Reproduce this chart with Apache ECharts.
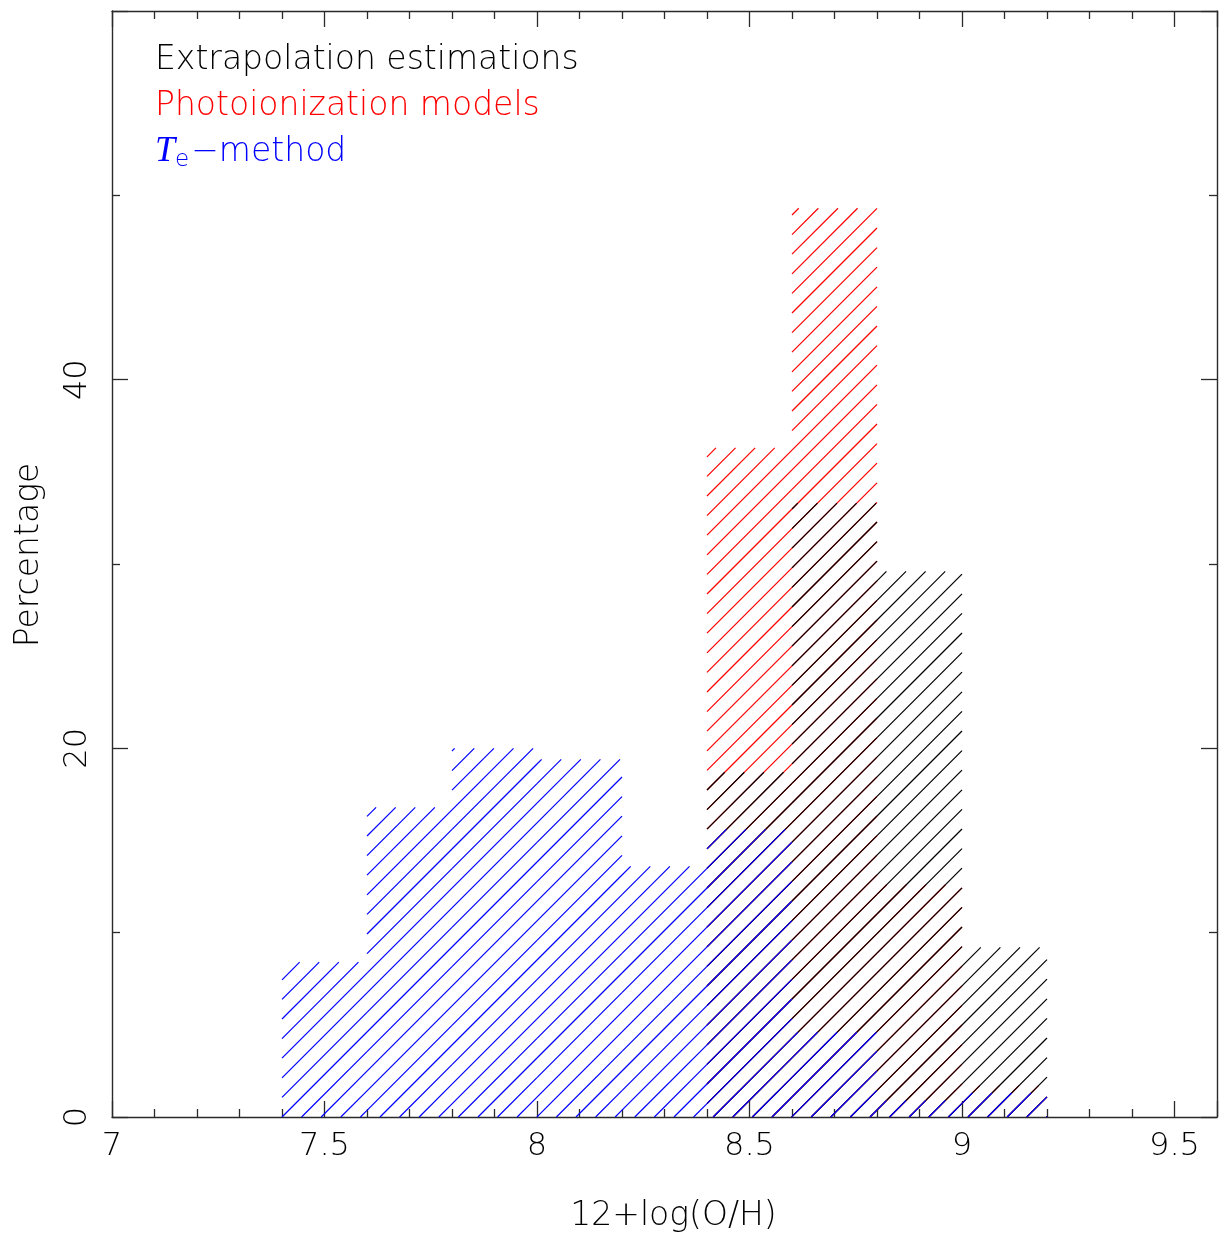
<!DOCTYPE html>
<html>
<head>
<meta charset="utf-8">
<script src="https://cdn.jsdelivr.net/npm/echarts@6/dist/echarts.min.js"></script>
<style>
  html, body { margin: 0; padding: 0; background: #ffffff; }
  #chart { width: 1220px; height: 1236px; }
</style>
</head>
<body>
<div id="chart"></div>
<script>
// Histogram bin edges in 12+log(O/H), 0.2 dex wide
const binEdges = [7.4, 7.6, 7.8, 8.0, 8.2, 8.4, 8.6, 8.8, 9.0, 9.2];

// Percentage of objects per bin for each abundance method
const extrapolation   = [0, 0, 0, 0, 0, 18.7, 33.3, 29.6, 9.2];
const photoionization = [0, 0, 0, 0, 0, 36.3, 49.3, 12.6, 1.7];
const teMethod        = [8.4, 16.8, 20.0, 19.4, 13.6, 15.6, 4.6, 0.9, 1.3];

const seriesNames = ['Extrapolation estimations', 'Photoionization models', 'Te-method'];

// Axis tick labels
const xTickLabels = ['7', '7.5', '8', '8.5', '9', '9.5'];
const yTickLabels = ['0', '20', '40'];

const FONT = "'DejaVu Sans'";
const FONT_WEIGHT = 200;
const TICK_SIZE = 32;
const TEXT_SIZE = 33;
const AXIS_COLOR = '#2a2a2a';
const HATCH_GAP = 19.6;      // horizontal distance between hatch lines (px)
const HATCH_WIDTH = 1.2;

function toBins(values) {
  const out = [];
  values.forEach((v, i) => {
    if (v > 0) out.push([binEdges[i], binEdges[i + 1], v]);
  });
  return out;
}

// Diagonal ("/") hatching of one histogram bar; all bars share the same line grid
function hatchRenderer(color) {
  return function (params, api) {
    const x0 = api.value(0), x1 = api.value(1), v = api.value(2);
    const bl = api.coord([x0, 0]);
    const tr = api.coord([x1, v]);
    const anchor = api.coord([binEdges[0], 0]);
    const left = bl[0], right = tr[0], bottom = bl[1], top = tr[1];
    const c0 = anchor[0] + anchor[1];
    const kStart = Math.ceil((left + top - c0) / HATCH_GAP);
    const kEnd = Math.floor((right + bottom - c0) / HATCH_GAP);
    const children = [];
    for (let k = kStart; k <= kEnd; k++) {
      const c = c0 + k * HATCH_GAP;
      const xa = Math.max(left, c - bottom);
      const xb = Math.min(right, c - top);
      if (xb <= xa) continue;
      children.push({
        type: 'line',
        shape: { x1: xa, y1: c - xa, x2: xb, y2: c - xb },
        style: { stroke: color, lineWidth: HATCH_WIDTH }
      });
    }
    return { type: 'group', children: children };
  };
}

const axisLine = { show: true, onZero: false, lineStyle: { color: AXIS_COLOR, width: 1.4 } };
const tickStyle = { color: AXIS_COLOR, width: 1.3 };
const tickText = { fontFamily: FONT, fontWeight: FONT_WEIGHT, fontSize: TICK_SIZE, color: '#000' };
const nameText = { fontFamily: FONT, fontWeight: FONT_WEIGHT, fontSize: TEXT_SIZE, color: '#000' };

const chart = echarts.init(document.getElementById('chart'), null, { renderer: 'canvas' });

chart.setOption({
  animation: false,
  backgroundColor: '#ffffff',
  textStyle: { fontFamily: FONT },
  grid: { left: 112, right: 3, top: 11, bottom: 119, containLabel: false, outerBoundsMode: 'none' },
  legend: {
    left: 145,
    top: 35,
    orient: 'vertical',
    icon: 'none',
    itemWidth: 0,
    itemHeight: 0,
    itemGap: 6,
    selectedMode: false,
    data: [
      { name: seriesNames[0], textStyle: { color: '#000000' } },
      { name: seriesNames[1], textStyle: { color: '#ff0000' } },
      { name: seriesNames[2], textStyle: { color: '#0000ff' } }
    ],
    formatter: function (name) {
      return name === seriesNames[2] ? '{t|T}{s|e}{n|\u2212method}' : name;
    },
    textStyle: {
      fontFamily: FONT,
      fontWeight: FONT_WEIGHT,
      fontSize: TEXT_SIZE,
      lineHeight: 40,
      rich: {
        t: { fontFamily: 'Liberation Serif', fontStyle: 'italic', fontSize: 36, color: '#0000ff', lineHeight: 40 },
        s: { fontFamily: FONT, fontWeight: FONT_WEIGHT, fontSize: 23, color: '#0000ff', lineHeight: 40, padding: [16, 2, 0, 0] },
        n: { fontFamily: FONT, fontWeight: FONT_WEIGHT, fontSize: TEXT_SIZE, color: '#0000ff', lineHeight: 40 }
      }
    }
  },
  xAxis: [
    {
      type: 'value',
      position: 'bottom',
      min: 7, max: 9.6, interval: 0.5,
      name: '12+log(O/H)',
      nameLocation: 'middle',
      nameGap: 83,
      nameTextStyle: Object.assign({ padding: [0, 0, 0, 18] }, nameText),
      axisLine: axisLine,
      axisTick: { show: true, inside: true, length: 16, lineStyle: tickStyle },
      minorTick: { show: true, splitNumber: 5, length: 8, lineStyle: tickStyle },
      splitLine: { show: false },
      axisLabel: Object.assign({
        margin: 14,
        showMaxLabel: false,
        formatter: function (v) { const s = String(v); return xTickLabels.indexOf(s) >= 0 ? s : ''; }
      }, tickText)
    },
    {
      type: 'value',
      position: 'top',
      min: 7, max: 9.6, interval: 0.5,
      axisLine: axisLine,
      axisTick: { show: true, inside: true, length: 16, lineStyle: tickStyle },
      minorTick: { show: true, splitNumber: 5, length: 8, lineStyle: tickStyle },
      splitLine: { show: false },
      axisLabel: { show: false }
    }
  ],
  yAxis: [
    {
      type: 'value',
      position: 'left',
      min: 0, max: 60, interval: 20,
      name: 'Percentage',
      nameLocation: 'middle',
      nameGap: 66,
      nameTextStyle: Object.assign({ padding: [0, 0, 0, 18] }, nameText),
      axisLine: axisLine,
      axisTick: { show: true, inside: true, length: 16, lineStyle: tickStyle },
      minorTick: { show: true, splitNumber: 2, length: 8, lineStyle: tickStyle },
      splitLine: { show: false },
      axisLabel: Object.assign({
        rotate: 90,
        margin: 18,
        formatter: function (v) { const s = String(v); return yTickLabels.indexOf(s) >= 0 ? s : ''; }
      }, tickText)
    },
    {
      type: 'value',
      position: 'right',
      min: 0, max: 60, interval: 20,
      axisLine: axisLine,
      axisTick: { show: true, inside: true, length: 16, lineStyle: tickStyle },
      minorTick: { show: true, splitNumber: 2, length: 8, lineStyle: tickStyle },
      splitLine: { show: false },
      axisLabel: { show: false }
    }
  ],
  series: [
    {
      name: seriesNames[1],
      type: 'custom',
      coordinateSystem: 'cartesian2d',
      xAxisIndex: 0, yAxisIndex: 0,
      silent: true,
      itemStyle: { color: '#ff0000' },
      encode: { x: [0, 1], y: 2 },
      renderItem: hatchRenderer('#ff0000'),
      data: toBins(photoionization)
    },
    {
      name: seriesNames[0],
      type: 'custom',
      coordinateSystem: 'cartesian2d',
      xAxisIndex: 0, yAxisIndex: 0,
      silent: true,
      itemStyle: { color: '#000000' },
      encode: { x: [0, 1], y: 2 },
      renderItem: hatchRenderer('#000000'),
      data: toBins(extrapolation)
    },
    {
      name: seriesNames[2],
      type: 'custom',
      coordinateSystem: 'cartesian2d',
      xAxisIndex: 0, yAxisIndex: 0,
      silent: true,
      itemStyle: { color: '#0000ff' },
      encode: { x: [0, 1], y: 2 },
      renderItem: hatchRenderer('#0000ff'),
      data: toBins(teMethod)
    }
  ]
});
</script>
</body>
</html>
